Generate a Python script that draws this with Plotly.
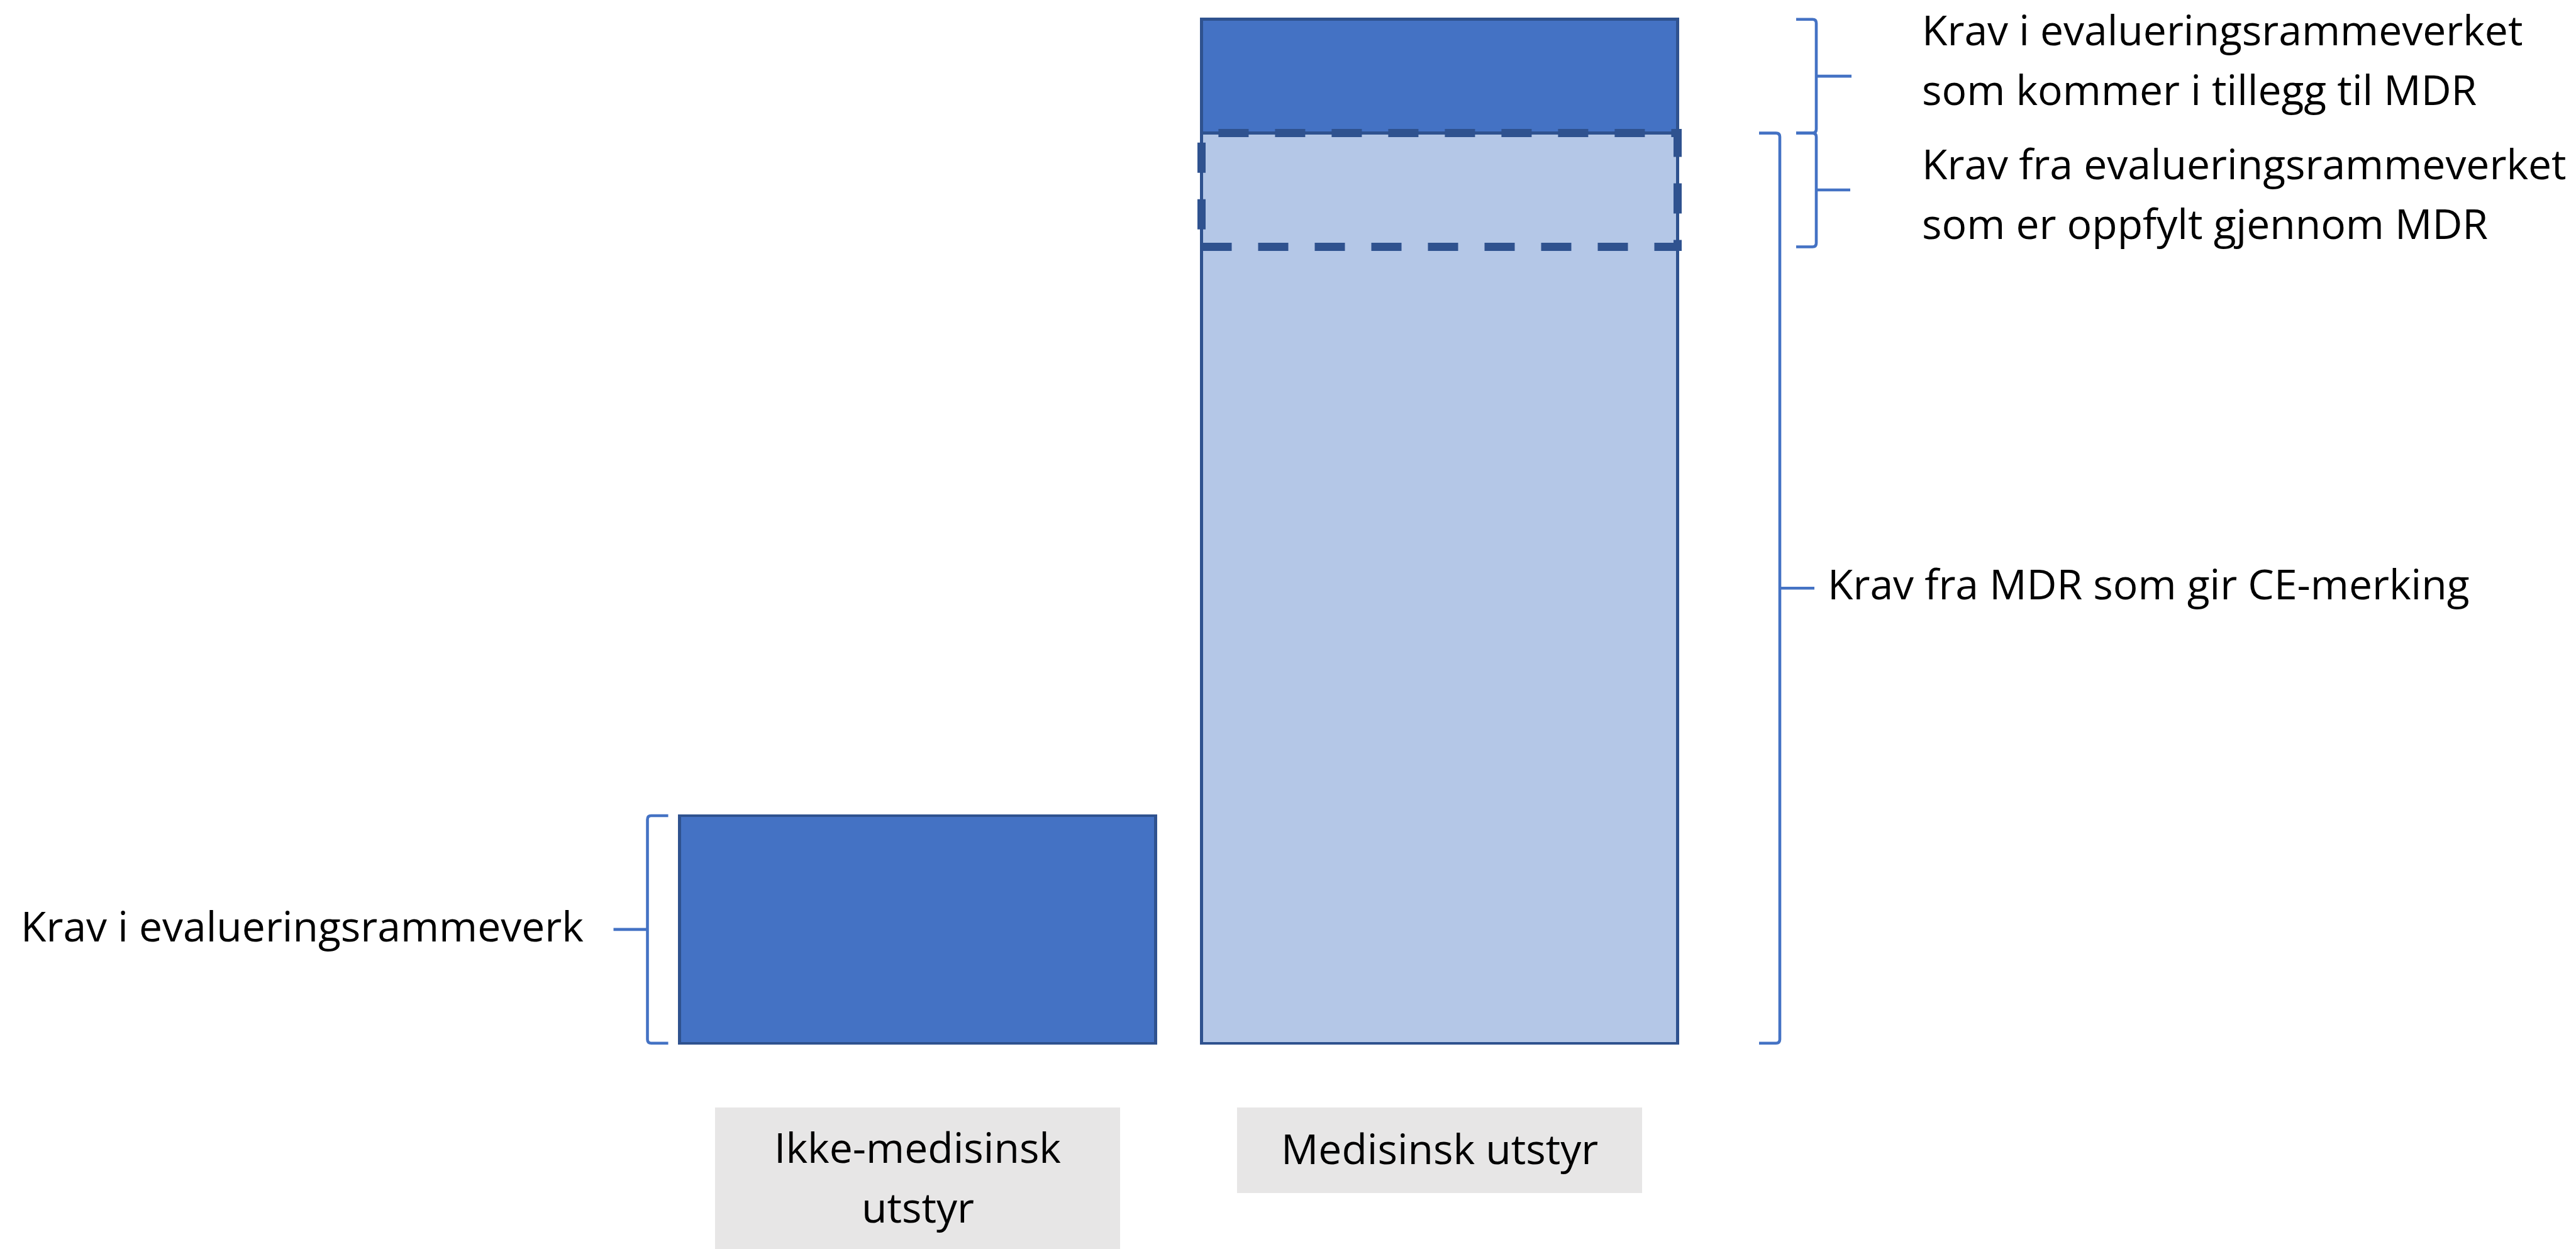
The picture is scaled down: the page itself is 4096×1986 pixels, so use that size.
import plotly.graph_objects as go

# ---- data -----------------------------------------------------------------
categories = ["Ikke-medisinsk utstyr", "Medisinsk utstyr"]
category_label_lines = [["Ikke-medisinsk", "utstyr"], ["Medisinsk utstyr"]]

eval_framework_total = 2.0    # Krav i evalueringsrammeverk (ikke-medisinsk utstyr)
mdr_requirements = 8.0        # Krav fra MDR som gir CE-merking
eval_fulfilled_by_mdr = 1.0   # evalueringskrav som allerede dekkes av MDR
eval_additional = 1.0         # evalueringskrav som kommer i tillegg til MDR

text_left = "Krav i evalueringsrammeverk"
text_mdr = "Krav fra MDR som gir CE-merking"
text_additional = ["Krav i evalueringsrammeverket", "som kommer i tillegg til MDR"]
text_fulfilled = ["Krav fra evalueringsrammeverket", "som er oppfylt gjennom MDR"]

# ---- page geometry ----------------------------------------------------------
W, H = 4096, 1986
BASE_PX = 1658.8        # pixel row of value 0
UNIT_PX = 180.9         # pixels per value unit
CAT0_PX = 1459.0        # pixel column of the first category
CAT_STEP_PX = 830.0     # pixels between categories
BAR_WIDTH = 757.0 / CAT_STEP_PX

DARK = "#4472C4"
LIGHT = "#B4C7E7"
EDGE = "#2F528F"
BRACE = "#4472C4"
BOX = "#E7E6E6"
FONT = dict(family="'Open Sans', Lato, sans-serif", size=66, color="#000000")
LINE_PX = 95.0


def px_x(px):
    return px / W


def px_y(py):
    return 1 - py / H


fig = go.Figure()

bar_line = dict(color=EDGE, width=4.6)
fig.add_bar(x=[categories[0]], y=[eval_framework_total], width=BAR_WIDTH,
            marker=dict(color=DARK, line=bar_line), name=text_left)
fig.add_bar(x=[categories[1]], y=[mdr_requirements], width=BAR_WIDTH,
            marker=dict(color=LIGHT, line=bar_line), name=text_mdr)
fig.add_bar(x=[categories[1]], y=[eval_additional], width=BAR_WIDTH,
            marker=dict(color=DARK, line=bar_line), name=" ".join(text_additional))

shapes = []
annotations = []

# dashed frame: the part of the evaluation framework already covered by MDR
shapes.append(dict(
    type="rect", xref="x", yref="y",
    x0=1 - BAR_WIDTH / 2, x1=1 + BAR_WIDTH / 2,
    y0=mdr_requirements - eval_fulfilled_by_mdr, y1=mdr_requirements,
    line=dict(color=EDGE, width=13, dash="48px,42px"),
    fillcolor="rgba(0,0,0,0)", layer="above",
))


def brace(xv_px, y_top, y_bot, hook_px, tick_px, side):
    """Curly-bracket outline: hooks point away from `side`, tick towards it."""
    r_px = 6.0
    rd = r_px / UNIT_PX
    xv = px_x(xv_px)
    xh = px_x(xv_px - side * hook_px)
    xc = px_x(xv_px - side * r_px)
    ym = (y_top + y_bot) / 2
    xt = px_x(xv_px + side * tick_px)
    path = (
        f"M {xh},{y_top} L {xc},{y_top} Q {xv},{y_top} {xv},{y_top - rd} "
        f"L {xv},{y_bot + rd} Q {xv},{y_bot} {xc},{y_bot} L {xh},{y_bot} "
        f"M {xv},{ym} L {xt},{ym}"
    )
    return dict(type="path", xref="paper", yref="y", path=path,
                line=dict(color=BRACE, width=4.6))


top_total = mdr_requirements + eval_additional
shapes.append(brace(2888, top_total, mdr_requirements, 32, 56, +1))
shapes.append(brace(2888, mdr_requirements, mdr_requirements - eval_fulfilled_by_mdr, 32, 54, +1))
shapes.append(brace(2830, mdr_requirements, 0, 33, 55, +1))
shapes.append(brace(1029.5, eval_framework_total, 0, 33, 54, -1))


def text_block(lines, x_px, y_center, shift_px, anchor):
    n = len(lines)
    for i, line in enumerate(lines):
        off = shift_px + ((n - 1) / 2 - i) * LINE_PX
        annotations.append(dict(
            text=line, xref="paper", yref="y", x=px_x(x_px), y=y_center,
            yshift=off, xanchor=anchor, yanchor="middle", showarrow=False,
            font=FONT,
        ))


text_block(text_additional, 3054, (top_total + mdr_requirements) / 2, 28, "left")
text_block(text_fulfilled, 3054,
           mdr_requirements - eval_fulfilled_by_mdr / 2, -4, "left")
text_block([text_mdr], 2904, mdr_requirements / 2, 8, "left")
text_block([text_left], 930, eval_framework_total / 2, 7, "right")

# category labels in grey boxes under the bars
box_half = 0.388
box_spans = [(1761, H + 20), (1761, 1897)]
label_centers = [[1822.5, 1917.5], [1825]]
for i, lines in enumerate(category_label_lines):
    top, bot = box_spans[i]
    shapes.append(dict(type="rect", xref="x", yref="paper",
                       x0=i - box_half, x1=i + box_half,
                       y0=px_y(bot), y1=px_y(top),
                       line=dict(width=0), fillcolor=BOX, layer="below"))
    for line, cy in zip(lines, label_centers[i]):
        annotations.append(dict(text=line, xref="x", yref="paper", x=i,
                                y=px_y(cy), xanchor="center", yanchor="middle",
                                showarrow=False, font=FONT))

fig.update_layout(
    width=W, height=H,
    margin=dict(l=0, r=0, t=0, b=0, pad=0),
    paper_bgcolor="white", plot_bgcolor="white",
    barmode="stack", showlegend=False,
    xaxis=dict(type="category", categoryorder="array", categoryarray=categories,
               range=[-CAT0_PX / CAT_STEP_PX, (W - CAT0_PX) / CAT_STEP_PX],
               visible=False, fixedrange=True),
    yaxis=dict(range=[-(H - BASE_PX) / UNIT_PX, BASE_PX / UNIT_PX],
               visible=False, fixedrange=True),
    shapes=shapes, annotations=annotations,
)

fig.write_html("out.html", config={"displayModeBar": False})
